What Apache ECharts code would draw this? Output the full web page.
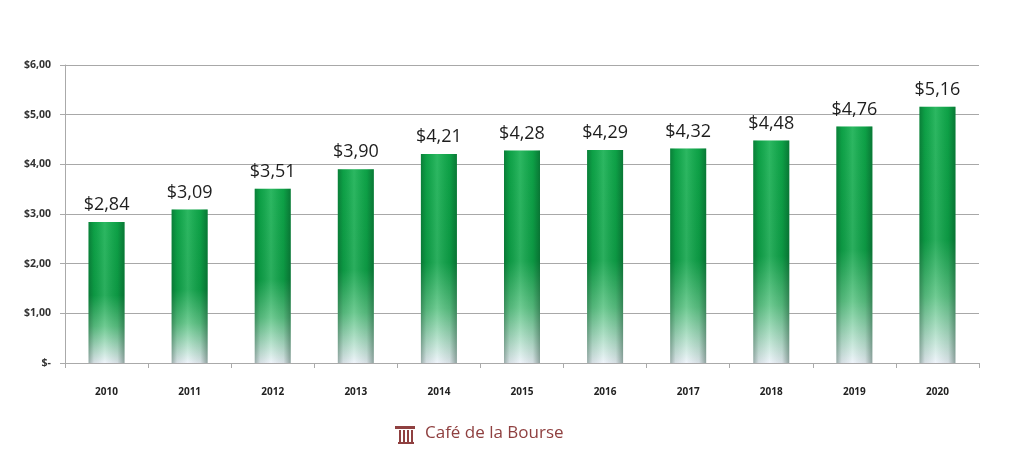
<!DOCTYPE html>
<html><head><meta charset="utf-8">
<script src="https://cdn.jsdelivr.net/npm/echarts@6/dist/echarts.min.js"></script>
<style>html,body{margin:0;padding:0;background:#fff}#c{width:1024px;height:471px}</style>
</head><body><div id="c"></div>
<script>
var years = ['2010','2011','2012','2013','2014','2015','2016','2017','2018','2019','2020'];
var dividends = [2.84,3.09,3.51,3.90,4.21,4.28,4.29,4.32,4.48,4.76,5.16];
var yTicks = [0,1,2,3,4,5,6];

function money(v){ return v === 0 ? '$-' : '$' + v.toFixed(2).replace('.', ','); }

var chart = echarts.init(document.getElementById('c'));
chart.setOption({
  backgroundColor:'#fff',
  animation:false,
  grid:{left:65,right:45,top:65,bottom:108},
  xAxis:{type:'category',data:years,
    axisLine:{show:true,lineStyle:{color:'#aaa'}},
    axisTick:{show:true,alignWithLabel:false,lineStyle:{color:'#aaa'}},
    axisLabel:{color:'#222',fontSize:10,fontWeight:'bold',fontFamily:'Open Sans',margin:24}},
  yAxis:{type:'value',min:yTicks[0],max:yTicks[yTicks.length-1],interval:1,
    axisLine:{show:true,lineStyle:{color:'#aaa'}},
    axisTick:{show:true,lineStyle:{color:'#aaa'}},
    splitLine:{lineStyle:{color:'#a8a8a8',width:1}},
    axisLabel:{formatter:money,color:'#333',fontSize:10.5,fontWeight:'bold',fontFamily:'Open Sans',margin:14}},
  series:[
    {type:'bar',data:dividends,barWidth:36,z:2,
      itemStyle:{color:new echarts.graphic.LinearGradient(0,0,0,1,[
        {offset:0,color:'#0fae4c'},{offset:0.52,color:'#0ea348'},
        {offset:0.74,color:'#5cc484'},{offset:1,color:'#eef3fb'}])},
      label:{show:true,position:'top',distance:8,formatter:function(p){return money(p.value);},
        color:'#1e1e1e',fontSize:18,fontFamily:'Open Sans'}},
    {type:'bar',data:dividends,barWidth:36,barGap:'-100%',z:3,silent:true,
      itemStyle:{color:new echarts.graphic.LinearGradient(0,0,1,0,[
        {offset:0,color:'rgba(0,40,20,0.35)'},{offset:0.15,color:'rgba(0,40,20,0.1)'},
        {offset:0.45,color:'rgba(255,255,255,0.12)'},{offset:0.8,color:'rgba(0,40,20,0.1)'},
        {offset:1,color:'rgba(0,40,20,0.4)'}])}}
  ],
  graphic:[
    {type:'group',left:395,top:425,children:[
      {type:'rect',shape:{x:0,y:0,width:20,height:3},style:{fill:'#8f4040'}},
      {type:'rect',shape:{x:4,y:4,width:2,height:12},style:{fill:'#8f4040'}},
      {type:'rect',shape:{x:8,y:4,width:2,height:12},style:{fill:'#8f4040'}},
      {type:'rect',shape:{x:12,y:4,width:2,height:12},style:{fill:'#8f4040'}},
      {type:'rect',shape:{x:16,y:4,width:2,height:12},style:{fill:'#8f4040'}},
      {type:'rect',shape:{x:3,y:16,width:16,height:2},style:{fill:'#8f4040'}},
      {type:'text',left:30,top:-1,style:{text:'Café de la Bourse',fill:'#8f4040',fontSize:17,fontFamily:'Open Sans'}}
    ]}
  ]
});
</script></body></html>
